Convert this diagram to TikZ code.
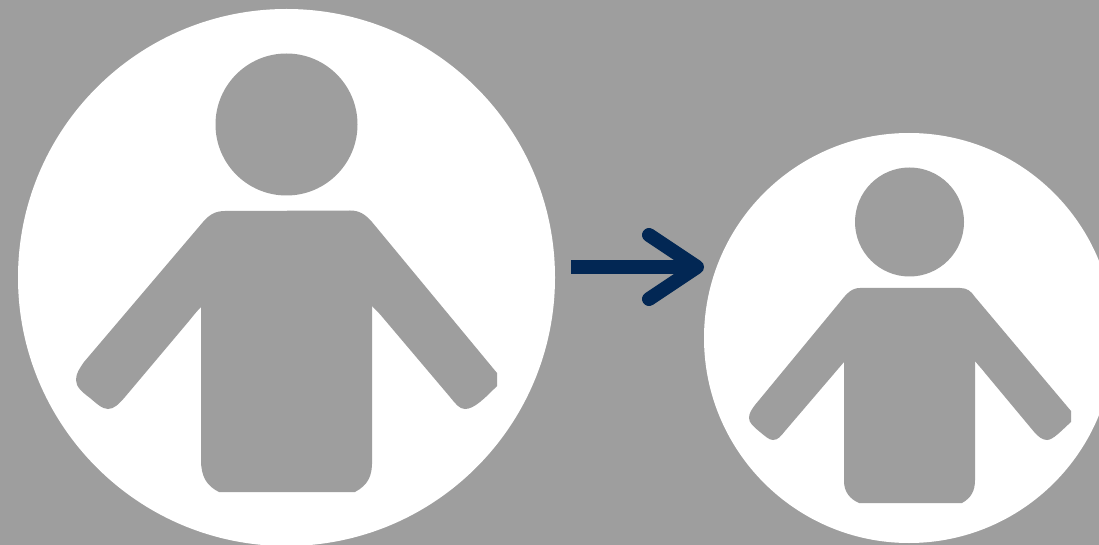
\documentclass[tikz,border=0pt]{standalone}
\usetikzlibrary{positioning}
\definecolor{backdrop}{RGB}{158,158,158}
\definecolor{navy}{RGB}{2,39,84}
\tikzset{
  px/.style={x=0.75pt, y=-0.75pt},
  disc/.style={circle, fill=white, inner sep=0pt},
  bigdisc/.style={disc, minimum size=402.75pt},
  smalldisc/.style={disc, minimum size=307.5pt},
  headbig/.style={circle, fill=backdrop, inner sep=0pt, minimum size=106.5pt},
  headsmall/.style={circle, fill=backdrop, inner sep=0pt, minimum size=81.75pt},
  figure/.style={fill=backdrop},
  shaft/.style={draw=navy, line width=10.5pt},
  barb/.style={draw=navy, line width=10.5pt, line cap=round, line join=round},
}
\begin{document}
\begin{tikzpicture}[px]
  \useasboundingbox (0,0) rectangle (1099,545);
  \clip (0,0) rectangle (1099,545);
  \fill[backdrop] (0,0) rectangle (1099,545);
  % left person
  \node[bigdisc] (before) at (286.5,277.5) {};
  \node[headbig] (beforehead) at (286.5,124.5) {};
  \path[figure] (225,211) -- (350,210.5)
    .. controls (359,210.5) and (365,214) .. (372,222)
    -- (497,373) -- (497,386)
    .. controls (484,399) and (474,409) .. (465,409)
    .. controls (459,409) and (455,403) .. (450,397)
    -- (384,319) .. controls (380,314) and (376,310) .. (372,306)
    -- (372,460) .. controls (372.5,476) and (368,485) .. (355,492)
    -- (219,492) .. controls (207,486) and (201,477) .. (201,460)
    -- (201,307) .. controls (197,311) and (193,316) .. (189,321)
    -- (125,397) .. controls (119,404) and (114,409) .. (108,409)
    .. controls (102,409) and (96,403) .. (90,398)
    .. controls (82,392) and (76,387) .. (76,380)
    .. controls (76,373) and (80,368) .. (84,362)
    -- (203,222) .. controls (209,215) and (215,211) .. (225,211) -- cycle;
  % right person
  \node[smalldisc] (after) at (909,338) {};
  \node[headsmall] (afterhead) at (909.5,222) {};
  \path[figure] (860,288) -- (960,288)
    .. controls (967,288) and (971,291) .. (975,297)
    -- (1071,411) -- (1071,422)
    .. controls (1061,431) and (1053,440) .. (1047,440)
    .. controls (1042,440) and (1038,436) .. (1035,433)
    -- (985,373) .. controls (982,369) and (978,365) .. (975,361)
    -- (975,480) .. controls (975,491) and (971,498) .. (962,503)
    -- (859,503) .. controls (850,499) and (844,492) .. (844,481)
    -- (844,362) -- (785,431)
    .. controls (781,436) and (778,440) .. (773,440)
    .. controls (769,440) and (765,436) .. (760,432)
    .. controls (754,427) and (749,423) .. (749,418)
    .. controls (749,413) and (752,409) .. (755,405)
    -- (840,302) .. controls (847,293) and (852,288) .. (860,288) -- cycle;
  % arrow
  \coordinate (shaftstart) at (571,267);
  \coordinate (shafttip) at (697,267);
  \coordinate (barbup) at (649,235);
  \coordinate (barbdown) at (649,299);
  \draw[shaft] (shaftstart) -- (shafttip);
  \draw[barb] (barbup) -- (shafttip) -- (barbdown);
\end{tikzpicture}
\end{document}
